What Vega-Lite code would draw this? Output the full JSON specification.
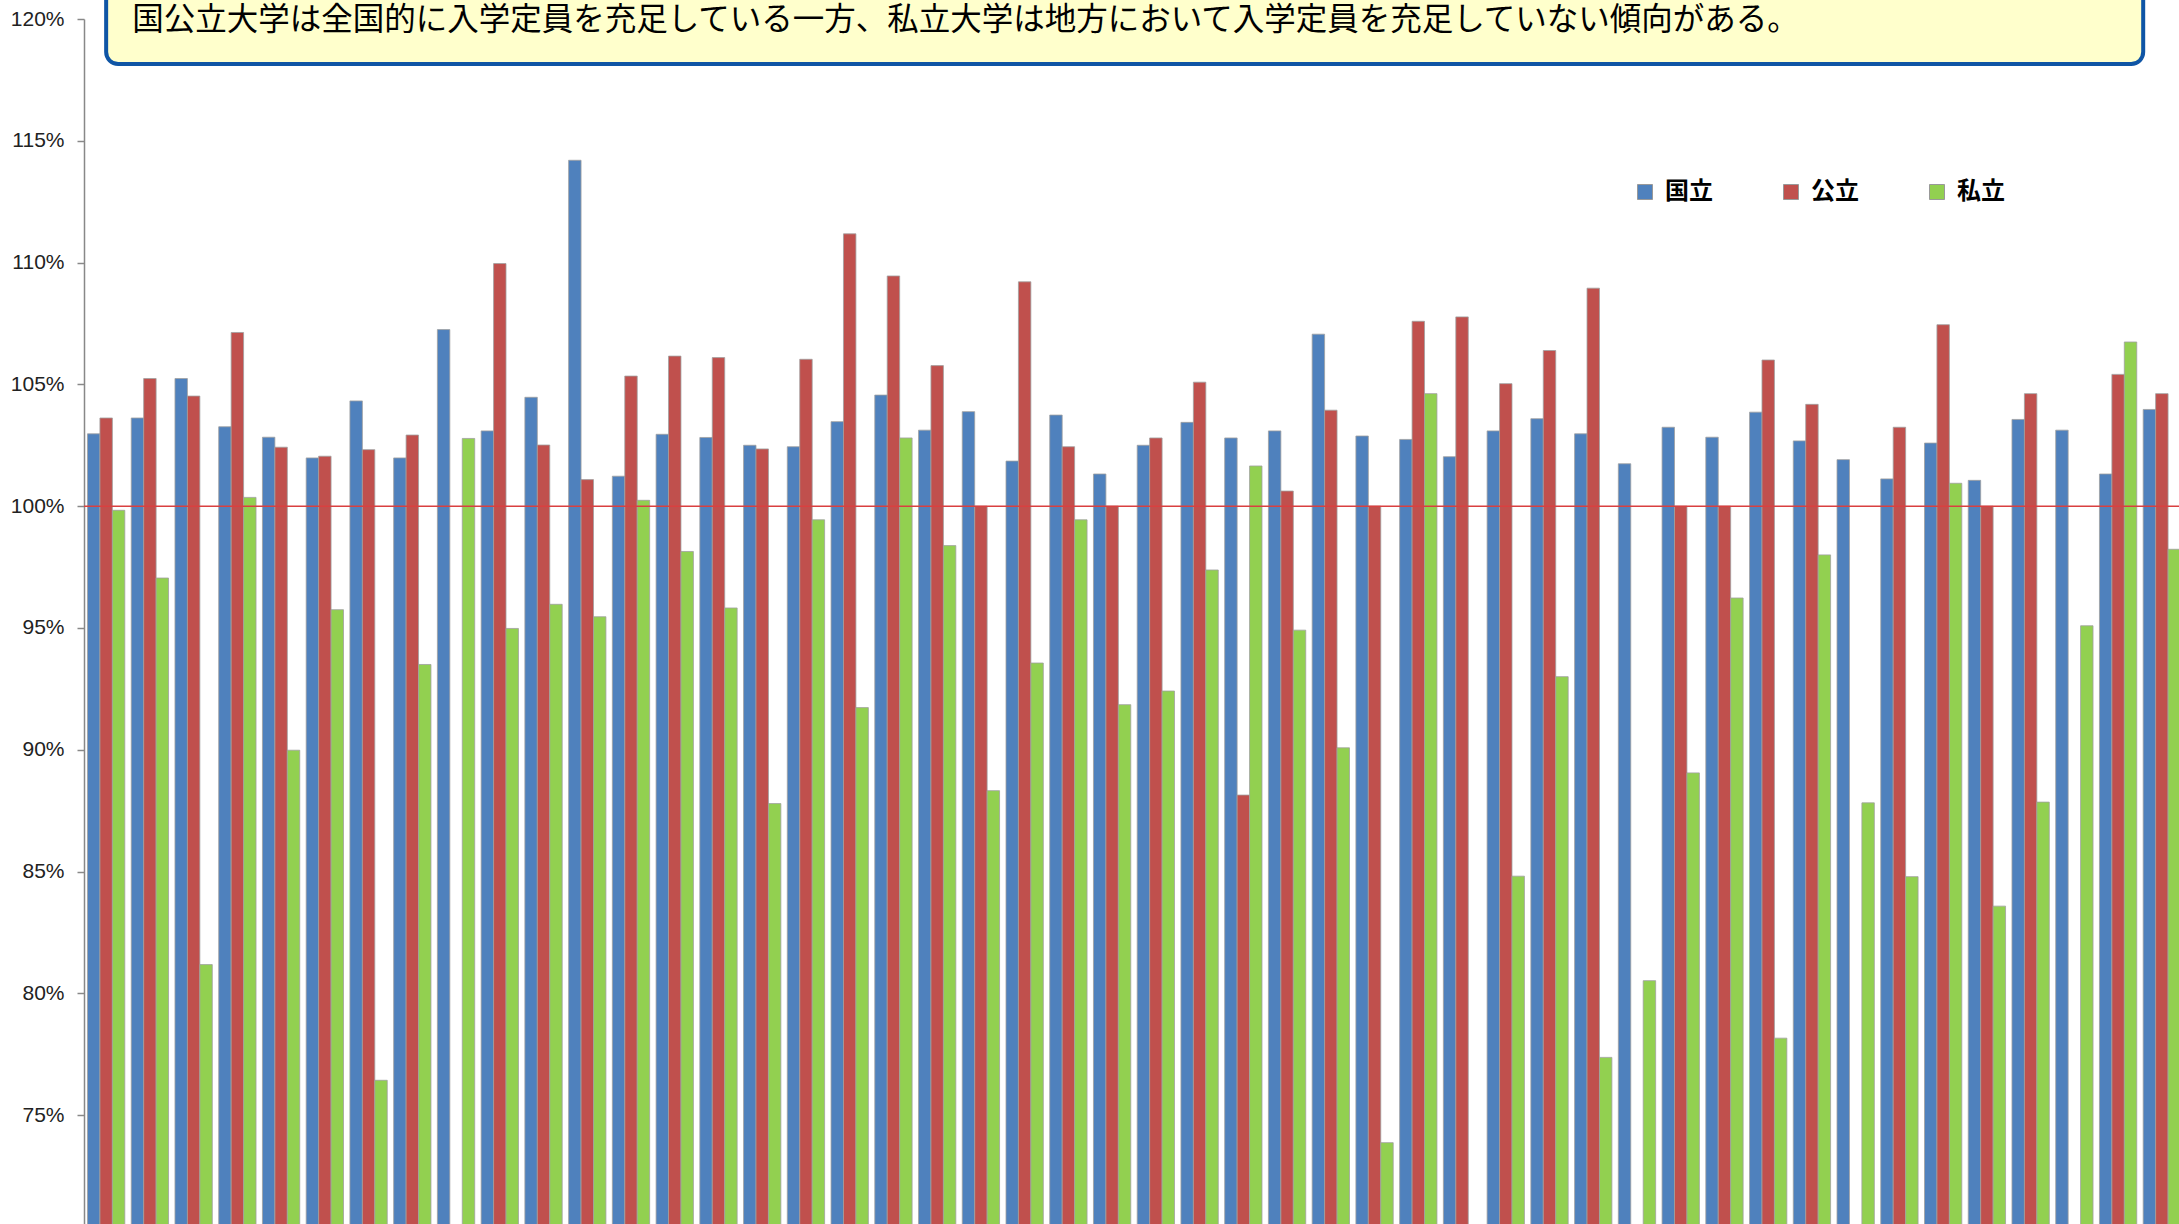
{
  "$schema": "https://vega.github.io/schema/vega-lite/v6.json",
  "width": 2095,
  "height": 1205,
  "autosize": {"type": "none"},
  "padding": {"left": 84, "top": 19, "right": 0, "bottom": 0},
  "background": "white",
  "config": {"view": {"stroke": null}},
  "datasets": {
    "rates": [
      {"pref":"北海道","type":"国立","rate":102.97},{"pref":"北海道","type":"公立","rate":103.62},{"pref":"北海道","type":"私立","rate":99.83},
      {"pref":"青森","type":"国立","rate":103.62},{"pref":"青森","type":"公立","rate":105.24},{"pref":"青森","type":"私立","rate":97.05},
      {"pref":"岩手","type":"国立","rate":105.24},{"pref":"岩手","type":"公立","rate":104.52},{"pref":"岩手","type":"私立","rate":81.18},
      {"pref":"宮城","type":"国立","rate":103.26},{"pref":"宮城","type":"公立","rate":107.13},{"pref":"宮城","type":"私立","rate":100.36},
      {"pref":"秋田","type":"国立","rate":102.83},{"pref":"秋田","type":"公立","rate":102.42},{"pref":"秋田","type":"私立","rate":89.98},
      {"pref":"山形","type":"国立","rate":101.98},{"pref":"山形","type":"公立","rate":102.05},{"pref":"山形","type":"私立","rate":95.75},
      {"pref":"福島","type":"国立","rate":104.32},{"pref":"福島","type":"公立","rate":102.32},{"pref":"福島","type":"私立","rate":76.43},
      {"pref":"茨城","type":"国立","rate":101.98},{"pref":"茨城","type":"公立","rate":102.92},{"pref":"茨城","type":"私立","rate":93.5},
      {"pref":"栃木","type":"国立","rate":107.25},{"pref":"栃木","type":"私立","rate":102.78},
      {"pref":"群馬","type":"国立","rate":103.09},{"pref":"群馬","type":"公立","rate":109.96},{"pref":"群馬","type":"私立","rate":94.98},
      {"pref":"埼玉","type":"国立","rate":104.47},{"pref":"埼玉","type":"公立","rate":102.51},{"pref":"埼玉","type":"私立","rate":95.97},
      {"pref":"千葉","type":"国立","rate":114.2},{"pref":"千葉","type":"公立","rate":101.09},{"pref":"千葉","type":"私立","rate":95.46},
      {"pref":"東京","type":"国立","rate":101.23},{"pref":"東京","type":"公立","rate":105.34},{"pref":"東京","type":"私立","rate":100.24},
      {"pref":"神奈川","type":"国立","rate":102.95},{"pref":"神奈川","type":"公立","rate":106.16},{"pref":"神奈川","type":"私立","rate":98.14},
      {"pref":"新潟","type":"国立","rate":102.82},{"pref":"新潟","type":"公立","rate":106.1},{"pref":"新潟","type":"私立","rate":95.82},
      {"pref":"富山","type":"国立","rate":102.5},{"pref":"富山","type":"公立","rate":102.35},{"pref":"富山","type":"私立","rate":87.79},
      {"pref":"石川","type":"国立","rate":102.44},{"pref":"石川","type":"公立","rate":106.03},{"pref":"石川","type":"私立","rate":99.44},
      {"pref":"福井","type":"国立","rate":103.47},{"pref":"福井","type":"公立","rate":111.18},{"pref":"福井","type":"私立","rate":91.73},
      {"pref":"山梨","type":"国立","rate":104.56},{"pref":"山梨","type":"公立","rate":109.45},{"pref":"山梨","type":"私立","rate":102.8},
      {"pref":"長野","type":"国立","rate":103.12},{"pref":"長野","type":"公立","rate":105.77},{"pref":"長野","type":"私立","rate":98.38},
      {"pref":"岐阜","type":"国立","rate":103.88},{"pref":"岐阜","type":"公立","rate":100.0},{"pref":"岐阜","type":"私立","rate":88.32},
      {"pref":"静岡","type":"国立","rate":101.85},{"pref":"静岡","type":"公立","rate":109.21},{"pref":"静岡","type":"私立","rate":93.56},
      {"pref":"愛知","type":"国立","rate":103.74},{"pref":"愛知","type":"公立","rate":102.44},{"pref":"愛知","type":"私立","rate":99.44},
      {"pref":"三重","type":"国立","rate":101.32},{"pref":"三重","type":"公立","rate":100.0},{"pref":"三重","type":"私立","rate":91.85},
      {"pref":"滋賀","type":"国立","rate":102.5},{"pref":"滋賀","type":"公立","rate":102.8},{"pref":"滋賀","type":"私立","rate":92.41},
      {"pref":"京都","type":"国立","rate":103.44},{"pref":"京都","type":"公立","rate":105.09},{"pref":"京都","type":"私立","rate":97.38},
      {"pref":"大阪","type":"国立","rate":102.8},{"pref":"大阪","type":"公立","rate":88.14},{"pref":"大阪","type":"私立","rate":101.65},
      {"pref":"兵庫","type":"国立","rate":103.09},{"pref":"兵庫","type":"公立","rate":100.62},{"pref":"兵庫","type":"私立","rate":94.91},
      {"pref":"奈良","type":"国立","rate":107.06},{"pref":"奈良","type":"公立","rate":103.94},{"pref":"奈良","type":"私立","rate":90.08},
      {"pref":"和歌山","type":"国立","rate":102.88},{"pref":"和歌山","type":"公立","rate":100.0},{"pref":"和歌山","type":"私立","rate":73.87},
      {"pref":"鳥取","type":"国立","rate":102.74},{"pref":"鳥取","type":"公立","rate":107.59},{"pref":"鳥取","type":"私立","rate":104.62},
      {"pref":"島根","type":"国立","rate":102.03},{"pref":"島根","type":"公立","rate":107.77},
      {"pref":"岡山","type":"国立","rate":103.09},{"pref":"岡山","type":"公立","rate":105.03},{"pref":"岡山","type":"私立","rate":84.81},
      {"pref":"広島","type":"国立","rate":103.59},{"pref":"広島","type":"公立","rate":106.39},{"pref":"広島","type":"私立","rate":93.0},
      {"pref":"山口","type":"国立","rate":102.97},{"pref":"山口","type":"公立","rate":108.95},{"pref":"山口","type":"私立","rate":77.37},
      {"pref":"徳島","type":"国立","rate":101.74},{"pref":"徳島","type":"私立","rate":80.52},
      {"pref":"香川","type":"国立","rate":103.24},{"pref":"香川","type":"公立","rate":100.0},{"pref":"香川","type":"私立","rate":89.05},
      {"pref":"愛媛","type":"国立","rate":102.83},{"pref":"愛媛","type":"公立","rate":100.0},{"pref":"愛媛","type":"私立","rate":96.23},
      {"pref":"高知","type":"国立","rate":103.86},{"pref":"高知","type":"公立","rate":106.0},{"pref":"高知","type":"私立","rate":78.16},
      {"pref":"福岡","type":"国立","rate":102.68},{"pref":"福岡","type":"公立","rate":104.18},{"pref":"福岡","type":"私立","rate":98.0},
      {"pref":"佐賀","type":"国立","rate":101.91},{"pref":"佐賀","type":"私立","rate":87.82},
      {"pref":"長崎","type":"国立","rate":101.12},{"pref":"長崎","type":"公立","rate":103.24},{"pref":"長崎","type":"私立","rate":84.79},
      {"pref":"熊本","type":"国立","rate":102.59},{"pref":"熊本","type":"公立","rate":107.45},{"pref":"熊本","type":"私立","rate":100.94},
      {"pref":"大分","type":"国立","rate":101.06},{"pref":"大分","type":"公立","rate":100.0},{"pref":"大分","type":"私立","rate":83.58},
      {"pref":"宮崎","type":"国立","rate":103.56},{"pref":"宮崎","type":"公立","rate":104.62},{"pref":"宮崎","type":"私立","rate":87.85},
      {"pref":"鹿児島","type":"国立","rate":103.12},{"pref":"鹿児島","type":"私立","rate":95.09},
      {"pref":"沖縄","type":"国立","rate":101.32},{"pref":"沖縄","type":"公立","rate":105.41},{"pref":"沖縄","type":"私立","rate":106.74},
      {"pref":"全国","type":"国立","rate":103.97},{"pref":"全国","type":"公立","rate":104.62},{"pref":"全国","type":"私立","rate":98.23}
    ],
    "note": [{"text": "国公立大学は全国的に入学定員を充足している一方、私立大学は地方において入学定員を充足していない傾向がある。"}]
  },
  "layer": [
    {
      "data": {"name": "rates"},
      "mark": {"type": "bar", "stroke": "#a0a0a0", "strokeWidth": 0.8},
      "encoding": {
        "x": {
          "field": "pref", "type": "nominal", "sort": null,
          "scale": {"range": [0, 2100], "paddingInner": 0.147, "paddingOuter": 0.08},
          "axis": null
        },
        "xOffset": {
          "field": "type", "type": "nominal",
          "scale": {"domain": ["国立", "公立", "私立"], "paddingInner": 0, "paddingOuter": 0}
        },
        "y": {
          "field": "rate", "type": "quantitative",
          "scale": {"domain": [70.53, 120], "zero": false, "nice": false},
          "axis": {
            "title": null, "grid": false,
            "values": [75, 80, 85, 90, 95, 100, 105, 110, 115, 120],
            "labelExpr": "datum.value + '%'",
            "labelFont": "Liberation Sans", "labelFontSize": 21, "labelColor": "#222",
            "labelPadding": 13, "tickSize": 7, "tickColor": "#888", "domainColor": "#888", "domainWidth": 1.5, "tickWidth": 1.5
          }
        },
        "color": {
          "field": "type", "type": "nominal",
          "scale": {"domain": ["国立", "公立", "私立"], "range": ["#4F81BD", "#C0504D", "#92D050"]},
          "legend": {
            "title": null, "orient": "none", "legendX": 1549, "legendY": 161,
            "direction": "horizontal", "symbolType": "square", "symbolSize": 225,
            "symbolStrokeColor": "#999", "symbolStrokeWidth": 1,
            "labelFont": "Noto Sans CJK JP", "labelFontSize": 24, "labelFontWeight": "bold",
            "labelColor": "#000", "labelOffset": 8, "columnPadding": 66, "padding": 0
          }
        }
      }
    },
    {
      "data": {"values": [{"v": 100}]},
      "mark": {"type": "rule", "color": "#D94040", "strokeWidth": 1.5},
      "encoding": {
        "y": {"field": "v", "type": "quantitative", "scale": {"domain": [70.53, 120], "zero": false, "nice": false}}
      }
    },
    {
      "data": {"name": "note"},
      "mark": {"type": "rect", "fill": "#FFFFCC", "stroke": "#0F55A5", "strokeWidth": 4, "cornerRadius": 12},
      "encoding": {
        "x": {"datum": "北海道", "bandPosition": 0.5},
        "x2": {"datum": "全国", "bandPosition": 0},
        "y": {"datum": 123, "type": "quantitative", "scale": {"domain": [70.53, 120], "zero": false, "nice": false}},
        "y2": {"datum": 118.15}
      }
    },
    {
      "data": {"name": "note"},
      "mark": {"type": "text", "align": "left", "baseline": "middle", "dx": 26, "dy": 2, "font": "Noto Sans CJK JP", "fontSize": 31.5, "color": "#000"},
      "encoding": {
        "x": {"datum": "北海道", "bandPosition": 0.5},
        "y": {"datum": 120, "type": "quantitative", "scale": {"domain": [70.53, 120], "zero": false, "nice": false}},
        "text": {"field": "text"}
      }
    }
  ]
}
